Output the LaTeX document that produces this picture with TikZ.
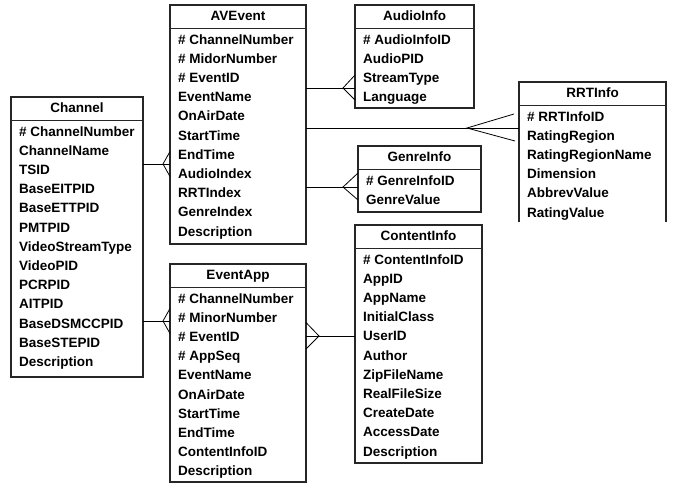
\documentclass[tikz,border=0pt]{standalone}
\usepackage{fontspec}
\setmainfont{Liberation Sans}
\usetikzlibrary{calc}
\tikzset{
  x=1pt, y=-1pt,
  ebox/.style={draw=black!85, line width=1.1pt, inner sep=0pt, outer sep=0pt, anchor=north west},
  etitle/.style={font=\bfseries\fontsize{13.5}{15}\selectfont, inner sep=0pt, text height=9.8pt, text depth=2.8pt},
  erow/.style={font=\bfseries\fontsize{13.5}{15}\selectfont, anchor=west, inner sep=0pt, text height=9.8pt, text depth=2.8pt},
  sepline/.style={draw=black!85, line width=1.1pt},
  link/.style={draw=black, line width=0.8pt},
}
% #1 name, #2 x1, #3 y1, #4 x2, #5 y2, #6 title, #7 rows, #8 box style
\newcommand\entbox[8]{%
  \node[ebox, #8, minimum width={#4pt-#2pt}, minimum height={#5pt-#3pt}] (#1) at (#2,#3) {};
  \node[etitle] (#1-t) at ({(#2+#4)/2},{#3+12}) {#6};
  \draw[sepline] (#1.west |- 0,{#3+23.5}) -- (#1.east |- 0,{#3+23.5});
  \foreach \t [count=\i] in {#7} {
    \node[erow] (#1-r\i) at ({#2+8},{#3+35.5+(\i-1)*19.2}) {\t};
  }%
}
\begin{document}
\begin{tikzpicture}
\useasboundingbox (0,0) rectangle (675,485);

\entbox{channel}{11}{97}{143}{377}{Channel}{\# ChannelNumber,ChannelName,TSID,BaseEITPID,BaseETTPID,PMTPID,VideoStreamType,VideoPID,PCRPID,AITPID,BaseDSMCCPID,BaseSTEPID,Description}{}
\entbox{avevent}{170}{5}{306}{244}{AVEvent}{\# ChannelNumber,\# MidorNumber,\# EventID,EventName,OnAirDate,StartTime,EndTime,AudioIndex,RRTIndex,GenreIndex,Description}{}
\entbox{audio}{355}{5}{474}{108}{AudioInfo}{\# AudioInfoID,AudioPID,StreamType,Language}{}
\entbox{rrt}{519}{82}{666}{222}{RRTInfo}{\# RRTInfoID,RatingRegion,RatingRegionName,Dimension,AbbrevValue,RatingValue}{draw=none}
\draw[draw=black!85, line width=1.1pt] (rrt.south west) -- (rrt.north west) -- (rrt.north east) -- (rrt.south east);
\entbox{genre}{358}{146}{481}{212}{GenreInfo}{\# GenreInfoID,GenreValue}{}
\entbox{eventapp}{170}{264}{306}{482}{EventApp}{\# ChannelNumber,\# MinorNumber,\# EventID,\# AppSeq,EventName,OnAirDate,StartTime,EndTime,ContentInfoID,Description}{}
\entbox{content}{355}{225}{482}{463}{ContentInfo}{\# ContentInfoID,AppID,AppName,InitialClass,UserID,Author,ZipFileName,RealFileSize,CreateDate,AccessDate,Description}{}

% connector y-levels and crow's-foot apexes
\coordinate (y1) at (0,164);
\coordinate (y2) at (0,321);
\coordinate (y3) at (0,88);
\coordinate (y4) at (0,128);
\coordinate (y5) at (0,187);
\coordinate (y6) at (0,336);
\coordinate (a1) at (163,164);
\coordinate (a2) at (163,321);
\coordinate (a3) at (343,88);
\coordinate (a4) at (467,128);
\coordinate (a5) at (343,187);
\coordinate (a6) at (319,336);

% Channel - AVEvent
\draw[link] (channel.east |- y1) -- (avevent.west |- y1);
\draw[link] ($(avevent.west |- y1)+(0,-12.5)$) -- (a1) -- ($(avevent.west |- y1)+(0,12.5)$);
% Channel - EventApp
\draw[link] (channel.east |- y2) -- (eventapp.west |- y2);
\draw[link] ($(eventapp.west |- y2)+(0,-12.5)$) -- (a2) -- ($(eventapp.west |- y2)+(0,12.5)$);
% AVEvent - AudioInfo
\draw[link] (avevent.east |- y3) -- (audio.west |- y3);
\draw[link] ($(audio.west |- y3)+(0,-13)$) -- (a3) -- ($(audio.west |- y3)+(0,12)$);
% AVEvent - RRTInfo
\draw[link] (avevent.east |- y4) -- (rrt.west |- y4);
\draw[link] ($(rrt.west |- y4)+(-5,-14)$) -- (a4) -- ($(rrt.west |- y4)+(-4,13)$);
% AVEvent - GenreInfo
\draw[link] (avevent.east |- y5) -- (genre.west |- y5);
\draw[link] ($(genre.west |- y5)+(0,-14)$) -- (a5) -- ($(genre.west |- y5)+(0,13)$);
% EventApp - ContentInfo
\draw[link] (eventapp.east |- y6) -- (content.west |- y6);
\draw[link] ($(eventapp.east |- y6)+(0,-13.5)$) -- (a6) -- ($(eventapp.east |- y6)+(0,13)$);
\end{tikzpicture}
\end{document}
